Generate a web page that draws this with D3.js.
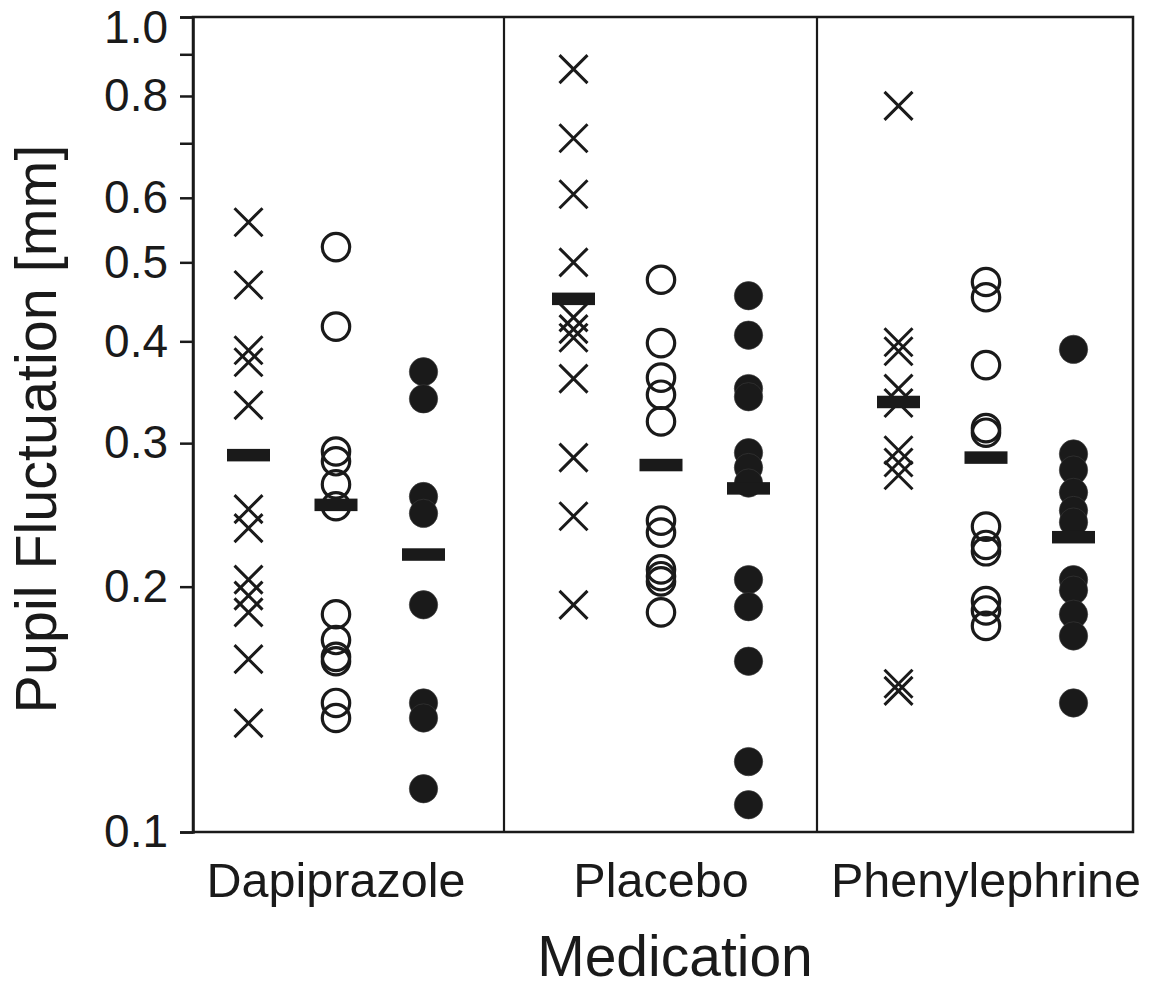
<!DOCTYPE html>
<html>
<head>
<meta charset="utf-8">
<script src="https://cdn.jsdelivr.net/npm/d3@7"></script>
<style>
  html, body { margin: 0; padding: 0; background: #ffffff; }
  svg { display: block; }
  text { font-family: "Liberation Sans", Arial, Helvetica, sans-serif; fill: #1a1a1a; }
</style>
</head>
<body>
<svg id="chart" width="1149" height="990"></svg>
<script>
// ---------------- DATA ----------------
const medications = ["Dapiprazole", "Placebo", "Phenylephrine"];
const markerTypes = ["cross", "open", "filled"];

// Pupil fluctuation [mm], one array per medication × marker type
const dapiprazoleCross  = [0.560, 0.469, 0.390, 0.377, 0.334, 0.249, 0.236, 0.204, 0.195, 0.186, 0.163, 0.136];
const dapiprazoleOpen   = [0.522, 0.417, 0.293, 0.285, 0.267, 0.251, 0.185, 0.172, 0.164, 0.162, 0.144, 0.138];
const dapiprazoleFilled = [0.367, 0.340, 0.258, 0.246, 0.190, 0.144, 0.138, 0.113];

const placeboCross  = [0.863, 0.710, 0.606, 0.500, 0.428, 0.414, 0.404, 0.360, 0.288, 0.244, 0.190];
const placeboOpen   = [0.476, 0.398, 0.361, 0.344, 0.319, 0.241, 0.233, 0.210, 0.206, 0.203, 0.186];
const placeboFilled = [0.455, 0.407, 0.350, 0.342, 0.292, 0.280, 0.268, 0.204, 0.189, 0.162, 0.122, 0.108];

const phenylephrineCross  = [0.778, 0.399, 0.389, 0.350, 0.336, 0.294, 0.284, 0.274, 0.152, 0.149];
const phenylephrineOpen   = [0.473, 0.453, 0.374, 0.313, 0.309, 0.237, 0.225, 0.221, 0.192, 0.187, 0.179];
const phenylephrineFilled = [0.391, 0.291, 0.278, 0.261, 0.248, 0.240, 0.204, 0.198, 0.185, 0.174, 0.144];

// Group means (horizontal bars)
const dapiprazoleMeans   = [0.290, 0.252, 0.219];
const placeboMeans       = [0.451, 0.282, 0.264];
const phenylephrineMeans = [0.337, 0.288, 0.230];

// Y axis ticks
const yTickValues = [0.1, 0.2, 0.3, 0.4, 0.5, 0.6, 0.7, 0.8, 0.9, 1.0];
const yTickLabels = ["0.1", "0.2", "0.3", "0.4", "0.5", "0.6", "", "0.8", "", "1.0"];

const yTitle = "Pupil Fluctuation [mm]";
const xTitle = "Medication";

// ---------------- build table ----------------
const seriesTable = [
  [dapiprazoleCross, dapiprazoleOpen, dapiprazoleFilled],
  [placeboCross, placeboOpen, placeboFilled],
  [phenylephrineCross, phenylephrineOpen, phenylephrineFilled]
];
const meansTable = [dapiprazoleMeans, placeboMeans, phenylephrineMeans];

const points = [];
const means = [];
medications.forEach((m, i) => {
  markerTypes.forEach((t, j) => {
    seriesTable[i][j].forEach(v => points.push({ med: m, type: t, value: v }));
    means.push({ med: m, type: t, value: meansTable[i][j] });
  });
});

// ---------------- layout ----------------
const ink = "#1a1a1a";
const frame = { left: 193, right: 1133, top: 17, bottom: 832 };
const separators = [504, 817];

const svg = d3.select("#chart");

const y = d3.scaleLog().domain([0.1, 1.0]).range([frame.bottom, frame.top]);
const xGroup = d3.scaleBand().domain(medications).range([173.5, 1148.5]).paddingInner(0).paddingOuter(0);
const xInner = d3.scalePoint().domain(markerTypes).range([-87.5, 87.5]);
const xPos = d => xGroup(d.med) + xGroup.bandwidth() / 2 + xInner(d.type);

// frame
svg.append("rect")
  .attr("x", frame.left).attr("y", frame.top)
  .attr("width", frame.right - frame.left).attr("height", frame.bottom - frame.top)
  .attr("fill", "none").attr("stroke", ink).attr("stroke-width", 2.5);

separators.forEach(sx => {
  svg.append("line")
    .attr("x1", sx).attr("x2", sx)
    .attr("y1", frame.top).attr("y2", frame.bottom)
    .attr("stroke", ink).attr("stroke-width", 2.2);
});

// y axis
const yAxis = d3.axisLeft(y)
  .tickValues(yTickValues)
  .tickSize(13)
  .tickPadding(12)
  .tickFormat((d, i) => yTickLabels[i]);

const gy = svg.append("g")
  .attr("transform", `translate(${frame.left},0)`)
  .call(yAxis);
gy.select(".domain").attr("stroke", ink).attr("stroke-width", 2.5);
gy.selectAll(".tick line").attr("stroke", ink).attr("stroke-width", 2.5);
gy.selectAll(".tick text")
  .style("font-family", "'Liberation Sans', Arial, sans-serif")
  .style("font-size", "46px")
  .attr("fill", ink);
// keep the top label's box inside the picture
gy.selectAll(".tick text").filter(d => d === 1.0).attr("dy", "0.55em");

// x category labels
svg.append("g").selectAll("text")
  .data(medications)
  .join("text")
  .attr("x", d => xGroup(d) + xGroup.bandwidth() / 2)
  .attr("y", 897)
  .attr("text-anchor", "middle")
  .style("font-size", "48.5px")
  .text(d => d);

// titles
svg.append("text")
  .attr("x", 675).attr("y", 976)
  .attr("text-anchor", "middle")
  .style("font-size", "57px")
  .text(xTitle);

svg.append("text")
  .attr("transform", `translate(56,${(148 + 710) / 2}) rotate(-90)`)
  .attr("text-anchor", "middle")
  .style("font-size", "57.5px")
  .text(yTitle);

// points
const half = 14;
const g = svg.append("g");

g.selectAll("path.cross")
  .data(points.filter(d => d.type === "cross"))
  .join("path")
  .attr("class", "cross")
  .attr("transform", d => `translate(${xPos(d)},${y(d.value)})`)
  .attr("d", `M${-half},${-half}L${half},${half}M${-half},${half}L${half},${-half}`)
  .attr("stroke", ink).attr("stroke-width", 3).attr("fill", "none");

g.selectAll("circle.open")
  .data(points.filter(d => d.type === "open"))
  .join("circle")
  .attr("class", "open")
  .attr("cx", xPos).attr("cy", d => y(d.value))
  .attr("r", 13.7)
  .attr("fill", "none").attr("stroke", ink).attr("stroke-width", 3.2);

g.selectAll("circle.filled")
  .data(points.filter(d => d.type === "filled"))
  .join("circle")
  .attr("class", "filled")
  .attr("cx", xPos).attr("cy", d => y(d.value))
  .attr("r", 14.2)
  .attr("fill", ink).attr("stroke", "#3a3a3a").attr("stroke-width", 0.6);

// mean bars
const barW = 43, barH = 12.5;
svg.append("g").selectAll("rect")
  .data(means)
  .join("rect")
  .attr("x", d => xPos(d) - barW / 2)
  .attr("y", d => y(d.value) - barH / 2)
  .attr("width", barW).attr("height", barH)
  .attr("fill", ink);
</script>
</body>
</html>
